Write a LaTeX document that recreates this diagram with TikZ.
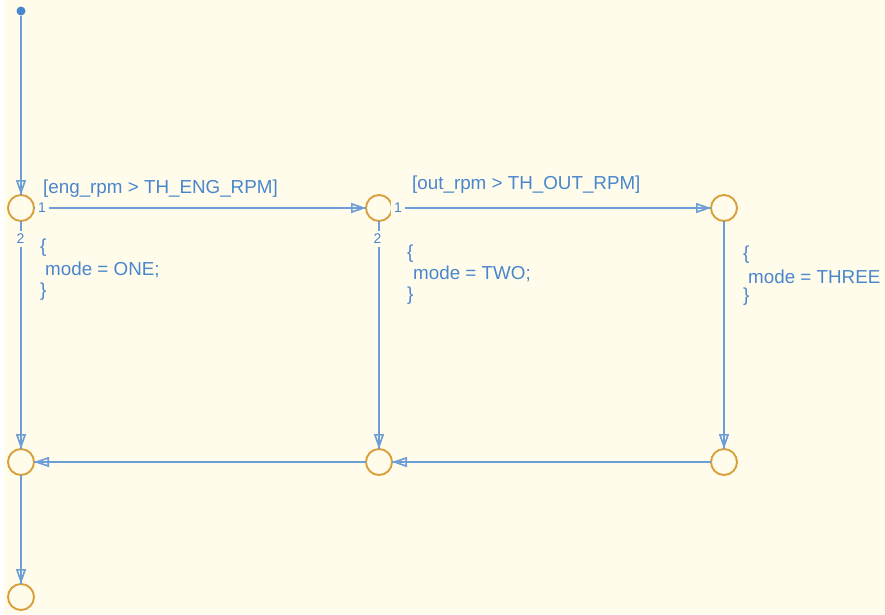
\documentclass[tikz,border=0pt]{standalone}
\usepackage{fontspec}
\setmainfont{Liberation Sans}
\usetikzlibrary{arrows.meta}
\definecolor{bg}{RGB}{255,252,236}
\definecolor{ln}{RGB}{110,158,214}
\definecolor{tx}{RGB}{74,134,204}
\definecolor{jn}{RGB}{217,160,58}
\begin{document}
\begin{tikzpicture}[x=1pt,y=-1pt,
  junc/.style={circle,draw=jn,line width=1.9pt,fill=bg,minimum size=26pt,inner sep=0pt,outer sep=0pt},
  trans/.style={draw=ln,line width=2.6pt,
    preaction={draw=ln,line width=1.8pt,arrows=-},
    -{Triangle[open,length=15pt,width=10pt,line width=1.7pt]}},
  lbl/.style={font=\fontsize{18.8}{22}\selectfont,text=tx,inner sep=0pt},
  num/.style={font=\fontsize{14}{16}\selectfont,text=tx,fill=bg,inner sep=3.2pt},
]
\fill[white] (0,0) rectangle (885,614);
\fill[bg] (4,0) rectangle (885,614);
\useasboundingbox (0,0) rectangle (885,614);

% junctions
\node[junc] (j1) at (21,208) {};
\node[junc] (j2) at (379,208) {};
\node[junc] (j3) at (724,208) {};
\node[junc] (j4) at (21,462) {};
\node[junc] (j5) at (379,462) {};
\node[junc] (j6) at (724,462) {};
\node[junc] (j7) at (21,597) {};
\node[circle,fill=tx,minimum size=9pt,inner sep=0pt] (d0) at (21,11) {};

% transitions
\draw[trans] (d0) -- (j1);
\draw[trans] (j1) -- (j2);
\draw[trans] (j1) -- (j4);
\draw[trans] (j2) -- (j3);
\draw[trans] (j2) -- (j5);
\draw[trans] (j3) -- (j6);
\draw[trans] (j6) -- (j5);
\draw[trans] (j5) -- (j4);
\draw[trans] (j4) -- (j7);

% execution order numbers
\node[num] (n11) at (42,208) {1};
\node[num] (n12) at (20.5,239) {2};
\node[num] (n21) at (398,208) {1};
\node[num] (n22) at (377.5,239) {2};

% guards
\node[lbl,anchor=base west] (g1) at (43,193) {[eng\_rpm > TH\_ENG\_RPM]};
\node[lbl,anchor=base west] (g2) at (412,189) {[out\_rpm > TH\_OUT\_RPM]};

% actions
\node[lbl,anchor=base west] (a1o) at (40,252.5) {\{};
\node[lbl,anchor=base west] (a1m) at (45,275) {mode = ONE;};
\node[lbl,anchor=base west] (a1c) at (40,296) {\}};

\node[lbl,anchor=base west] (a2o) at (407,258) {\{};
\node[lbl,anchor=base west] (a2m) at (413,279) {mode = TWO;};
\node[lbl,anchor=base west] (a2c) at (407,300) {\}};

\node[lbl,anchor=base west] (a3o) at (743,259) {\{};
\node[lbl,anchor=base west] (a3m) at (748,283) {mode = THREE};
\node[lbl,anchor=base west] (a3c) at (743,301.5) {\}};
\end{tikzpicture}
\end{document}
